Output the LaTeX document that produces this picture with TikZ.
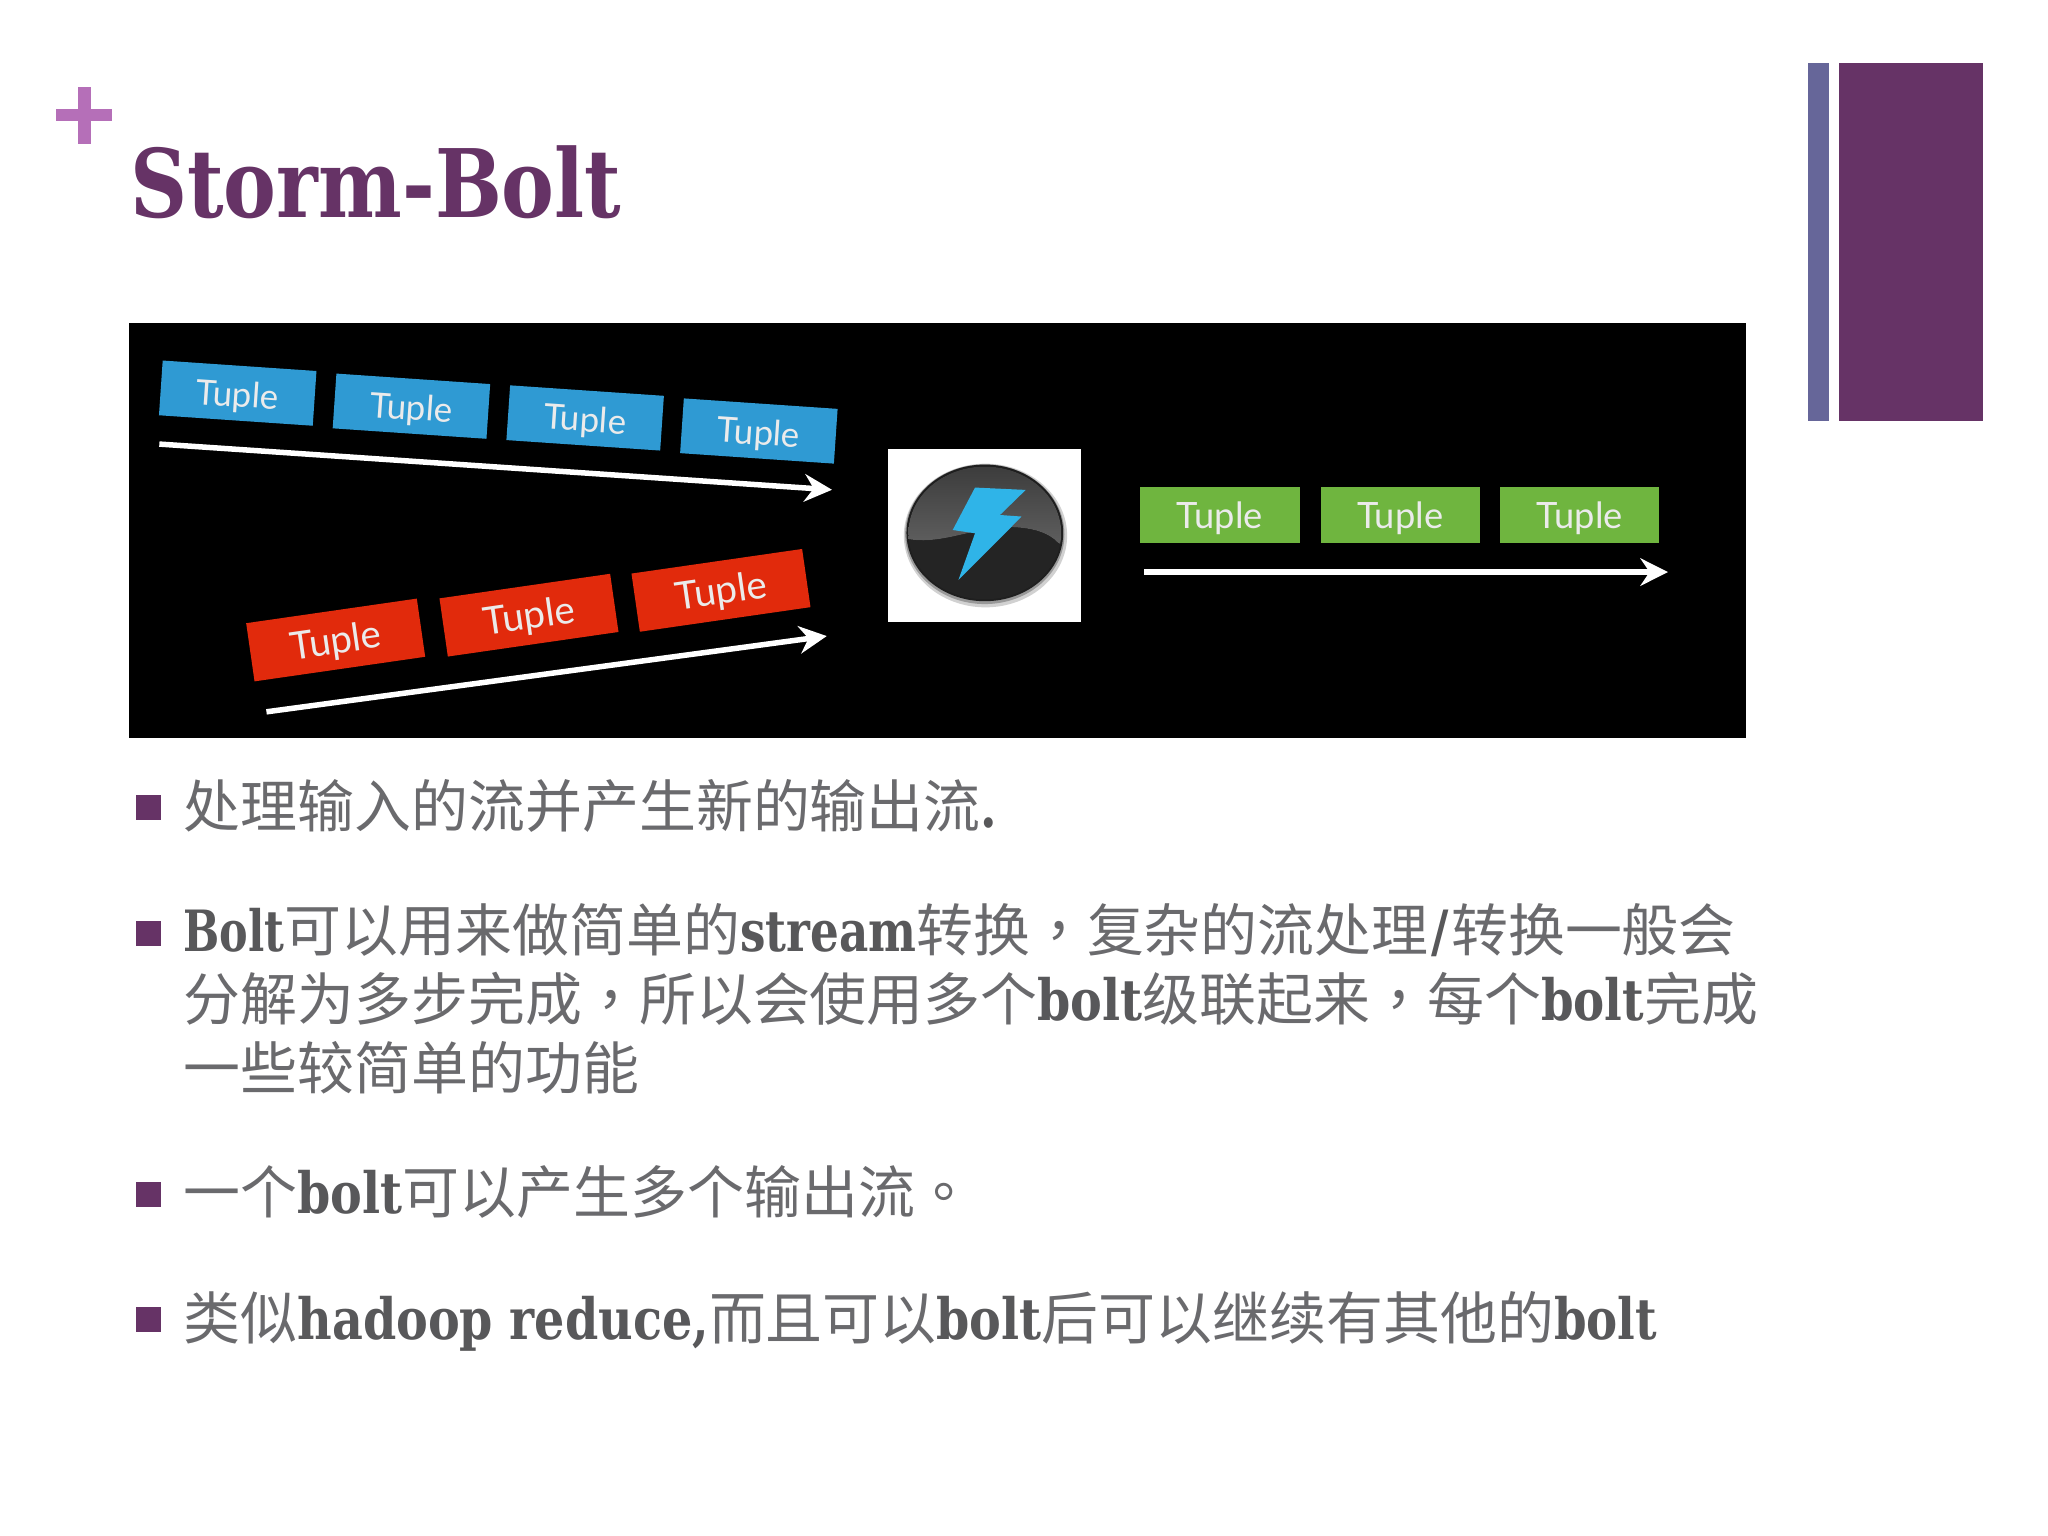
\documentclass[tikz,border=0pt]{standalone}
\usepackage{fontspec}
\usetikzlibrary{arrows.meta}
\setmainfont{Noto Sans CJK SC}
\newfontfamily\punctfont{Noto Sans CJK TC}
\newfontfamily\slabfont[FakeStretch=0.93]{DejaVu Serif Condensed}
\newfontfamily\titlefont[FakeStretch=0.93]{DejaVu Serif Condensed}
\newfontfamily\tuplefont{Lato}
\definecolor{slidepurple}{HTML}{663366}
\definecolor{slideblue}{HTML}{666699}
\definecolor{plusviolet}{HTML}{B56FB8}
\definecolor{bodygray}{HTML}{6A6A6D}
\definecolor{latingray}{HTML}{58585A}
\definecolor{tupleblue}{HTML}{2F9AD3}
\definecolor{tuplered}{HTML}{E12A0C}
\definecolor{tuplegreen}{HTML}{6FB53F}
\definecolor{boltblue}{HTML}{2FB4E8}
\newcommand{\lat}[1]{{\color{latingray}\slabfont\bfseries #1}}
\newcommand{\latn}[2]{\scalebox{#1}[1]{\lat{#2}}}
\newcommand{\pct}[1]{{\punctfont #1}}
\tikzset{
  tuplebox/.style={minimum height=0.42cm, inner sep=0pt, text height=0.26cm, text depth=0.05cm, text=white!92!black},
  bluebox/.style={tuplebox, fill=tupleblue, minimum width=1.18cm, rotate=-3.9, font=\tuplefont\fontsize{7.6pt}{9pt}\selectfont},
  redbox/.style={tuplebox, fill=tuplered, minimum width=1.32cm, minimum height=0.45cm, rotate=8.2, font=\tuplefont\fontsize{8.4pt}{10pt}\selectfont},
  greenbox/.style={tuplebox, fill=tuplegreen, minimum width=1.22cm, minimum height=0.43cm, font=\tuplefont\fontsize{7.9pt}{10pt}\selectfont},
  flowarrow/.style={draw=white, line width=1.2pt, -{Stealth[length=6pt,width=6pt,inset=2pt]}},
  bulletmark/.style={fill=slidepurple, minimum size=0.19cm, inner sep=0pt},
  bodyline/.style={anchor=base west, inner sep=0pt, text=bodygray, font=\fontsize{12.4pt}{15pt}\selectfont},
}
\begin{document}
\begin{tikzpicture}
    \useasboundingbox (0,0) rectangle (15.68,-11.76);

    % Side bars and plus sign
    \fill[slideblue] (13.84,-0.48) rectangle (14.00,-3.22);
    \fill[slidepurple] (14.08,-0.48) rectangle (15.18,-3.22);
    \fill[plusviolet] (0.43,-0.833) rectangle (0.86,-0.93);
    \fill[plusviolet] (0.597,-0.67) rectangle (0.693,-1.10);

    % Title
    \node[anchor=base west, inner sep=0pt, text=slidepurple, font=\titlefont\bfseries\fontsize{20.6pt}{24pt}\selectfont] (title) at (0.99,-1.665) {Storm-Bolt};

    % Black panel
    \fill[black] (0.99,-2.47) rectangle (13.37,-5.65);

    % Blue tuples
    \node[bluebox] (blue1) at (1.82,-3.01) {Tuple};
    \node[bluebox] (blue2) at (3.15,-3.11) {Tuple};
    \node[bluebox] (blue3) at (4.48,-3.20) {Tuple};
    \node[bluebox] (blue4) at (5.81,-3.30) {Tuple};
    \coordinate (bluestart) at (1.22,-3.40);
    \coordinate (blueend) at (6.37,-3.75);
    \draw[flowarrow] (bluestart) -- (blueend);

    % Red tuples
    \node[redbox] (red1) at (2.57,-4.90) {Tuple};
    \node[redbox] (red2) at (4.05,-4.71) {Tuple};
    \node[redbox] (red3) at (5.52,-4.52) {Tuple};
    \coordinate (redstart) at (2.04,-5.45);
    \coordinate (redend) at (6.33,-4.87);
    \draw[flowarrow] (redstart) -- (redend);

    % Bolt icon
    \fill[white] (6.80,-3.44) rectangle (8.28,-4.76);
    \fill[black!18] (7.545,-4.10) ellipse (0.625 and 0.55);
    \fill[black!40] (7.54,-4.09) ellipse (0.61 and 0.535);
    \fill[black!88] (7.54,-4.08) ellipse (0.60 and 0.523);
    \begin{scope}
        \clip (7.54,-4.08) ellipse (0.585 and 0.508);
        \fill[black!86] (6.90,-3.50) rectangle (8.20,-4.62);
        \fill[top color=black!78, bottom color=black!62] (6.90,-3.50) -- (8.20,-3.50) -- (8.20,-4.21) -- (8.10,-4.155)
            .. controls (8.03,-4.08) and (7.92,-4.05) .. (7.81,-4.04)
            .. controls (7.50,-4.01) and (7.25,-4.17) .. (6.97,-4.13) -- (6.90,-4.13) -- cycle;
    \end{scope}
    \fill[boltblue] (7.465,-3.733) -- (7.853,-3.751) -- (7.656,-3.943) -- (7.822,-3.955)
        -- (7.338,-4.44) -- (7.465,-4.083) -- (7.294,-4.058) -- cycle;

    % Green tuples
    \node[greenbox] (green1) at (9.34,-3.945) {Tuple};
    \node[greenbox] (green2) at (10.72,-3.945) {Tuple};
    \node[greenbox] (green3) at (12.095,-3.945) {Tuple};
    \coordinate (greenstart) at (8.76,-4.38);
    \coordinate (greenend) at (12.77,-4.38);
    \draw[flowarrow] (greenstart) -- (greenend);

    % Bullet points
    \node[bulletmark] (mark1) at (1.135,-6.185) {};
    \node[bodyline] (line1) at (1.40,-6.332) {处理输入的流并产生新的输出流\lat{.}};

    \node[bulletmark] (mark2) at (1.135,-7.145) {};
    \node[bodyline] (line2a) at (1.40,-7.282) {\latn{0.9}{Bolt}可以用来做简单的\latn{0.95}{stream}转换\pct{，}复杂的流处理\kern0.02cm\lat{/}\kern0.02cm 转换一般会};
    \node[bodyline] (line2b) at (1.40,-7.812) {分解为多步完成\pct{，}所以会使用多个\lat{bolt}级联起来\pct{，}每个\latn{0.98}{bolt}完成};
    \node[bodyline] (line2c) at (1.40,-8.342) {一些较简单的功能};

    \node[bulletmark] (mark3) at (1.135,-9.145) {};
    \node[bodyline] (line3) at (1.40,-9.292) {一个\lat{bolt}可以产生多个输出流\pct{。}};

    \node[bulletmark] (mark4) at (1.135,-10.105) {};
    \node[bodyline] (line4) at (1.40,-10.252) {类似\lat{hadoop reduce,}而且可以\lat{bolt}后可以继续有其他的\latn{0.98}{bolt}};
\end{tikzpicture}
\end{document}
